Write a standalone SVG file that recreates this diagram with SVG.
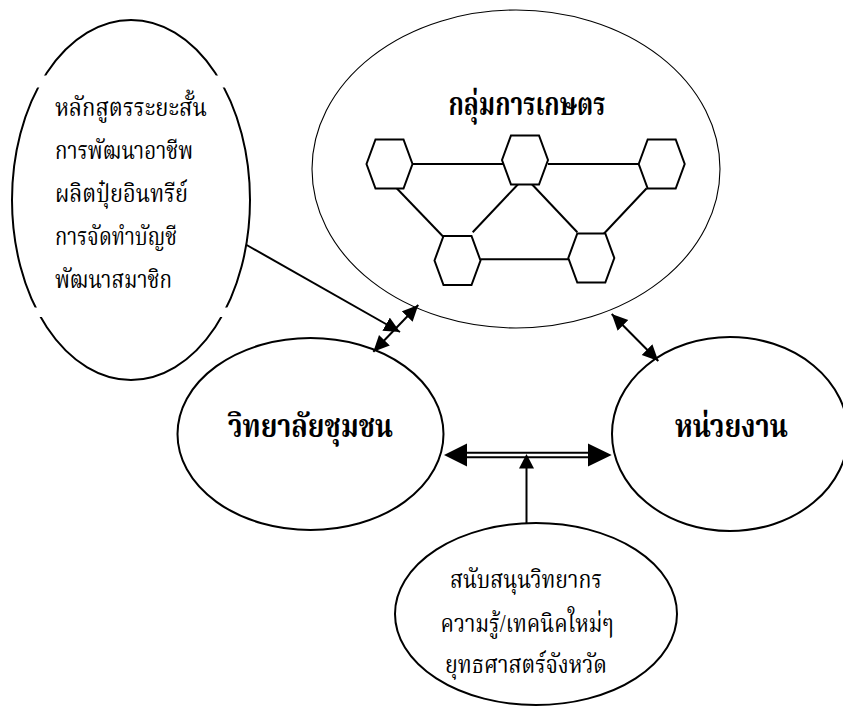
<svg xmlns="http://www.w3.org/2000/svg" xmlns:xlink="http://www.w3.org/1999/xlink" width="843" height="716" viewBox="0 0 843 716">
<style>
.el{fill:#fff;stroke:#000;stroke-width:2}
.thin{fill:#fff;stroke:#000;stroke-width:1.1}
.hex{fill:#fff;stroke:#000;stroke-width:2}
.ln{stroke:#000;stroke-width:2;fill:none}
.t{font-family:"Liberation Serif","Noto Serif Thai","Noto Sans Thai",serif;font-size:25px;fill:#000}
.b{font-weight:bold;font-size:32px}
</style>
<defs>
<polygon id="hx" points="-23,0 -14,-24.5 14,-24.5 23,0 14,24.5 -14,24.5"/>
<marker id="ah" markerUnits="userSpaceOnUse" markerWidth="18" markerHeight="16" refX="16" refY="7.5" orient="auto-start-reverse">
<path d="M0,0 L16,7.5 L0,15 z" fill="#000"/>
</marker>
<clipPath id="gapclip">
<rect x="0" y="0" width="300" height="75.5"/>
<rect x="0" y="87.5" width="300" height="220"/>
<rect x="0" y="317" width="300" height="100"/>
</clipPath>
</defs>

<g id="courses">
<ellipse class="el" cx="131" cy="200" rx="119" ry="180" clip-path="url(#gapclip)"/>
<text class="t" x="55" y="116" textLength="152" lengthAdjust="spacingAndGlyphs">หลักสูตรระยะสั้น</text>
<text class="t" x="55" y="159" textLength="138" lengthAdjust="spacingAndGlyphs">การพัฒนาอาชีพ</text>
<text class="t" x="55" y="202" textLength="133" lengthAdjust="spacingAndGlyphs">ผลิตปุ๋ยอินทรีย์</text>
<text class="t" x="55" y="245" textLength="122" lengthAdjust="spacingAndGlyphs">การจัดทำบัญชี</text>
<text class="t" x="55" y="288" textLength="117" lengthAdjust="spacingAndGlyphs">พัฒนาสมาชิก</text>
</g>

<g id="farm-group">
<ellipse class="thin" cx="516" cy="169" rx="204" ry="159"/>
<text class="t b" x="527" y="115" text-anchor="middle" textLength="157" lengthAdjust="spacingAndGlyphs">กลุ่มการเกษตร</text>
<g id="farm-links">
<line class="ln" x1="412" y1="164" x2="503" y2="164"/>
<line class="ln" x1="548" y1="164" x2="639" y2="164"/>
<line class="ln" x1="396.7" y1="188.3" x2="443.3" y2="236.7"/>
<line class="ln" x1="518.3" y1="184" x2="472.7" y2="232.3"/>
<line class="ln" x1="531.7" y1="184" x2="577.3" y2="232.3"/>
<line class="ln" x1="646.7" y1="188.3" x2="601.7" y2="236"/>
<line class="ln" x1="480.7" y1="259.3" x2="568.3" y2="259.3"/>
</g>
<g id="hex-1"><use xlink:href="#hx" class="hex" x="389.5" y="164"/></g>
<g id="hex-2"><use xlink:href="#hx" class="hex" x="525" y="160"/></g>
<g id="hex-3"><use xlink:href="#hx" class="hex" x="661.7" y="164"/></g>
<g id="hex-4"><use xlink:href="#hx" class="hex" x="457.5" y="260.5"/></g>
<g id="hex-5"><use xlink:href="#hx" class="hex" x="591.3" y="258"/></g>
</g>

<g id="college">
<ellipse class="el" cx="310.5" cy="434" rx="133" ry="96"/>
<text class="t b" x="310.5" y="437" text-anchor="middle" textLength="165" lengthAdjust="spacingAndGlyphs">วิทยาลัยชุมชน</text>
</g>

<g id="agency">
<ellipse class="el" cx="730" cy="434" rx="118" ry="97"/>
<text class="t b" x="731.5" y="437" text-anchor="middle" textLength="113" lengthAdjust="spacingAndGlyphs">หน่วยงาน</text>
</g>

<g id="support">
<ellipse class="el" cx="536" cy="614" rx="141" ry="91"/>
<text class="t" x="526" y="588" text-anchor="middle" textLength="152" lengthAdjust="spacingAndGlyphs">สนับสนุนวิทยากร</text>
<text class="t" x="527" y="632" text-anchor="middle" textLength="173" lengthAdjust="spacingAndGlyphs">ความรู้/เทคนิคใหม่ๆ</text>
<text class="t" x="526" y="673" text-anchor="middle" textLength="162" lengthAdjust="spacingAndGlyphs">ยุทธศาสตร์จังหวัด</text>
</g>

<g id="connectors">
<line class="ln" x1="246.7" y1="245" x2="400" y2="332" marker-end="url(#ah)"/>
<line class="ln" x1="373.3" y1="351.7" x2="418.3" y2="305" marker-start="url(#ah)" marker-end="url(#ah)"/>
<line class="ln" x1="611.7" y1="314" x2="658.3" y2="361" marker-start="url(#ah)" marker-end="url(#ah)"/>
<line class="ln" x1="466" y1="452.8" x2="589" y2="452.8"/>
<line class="ln" x1="466" y1="457.2" x2="589" y2="457.2"/>
<polygon points="444,455 467,443.5 467,466.5" fill="#000"/>
<polygon points="611.7,455 588,443.5 588,466.5" fill="#000"/>
<line class="ln" x1="526.5" y1="523.5" x2="526.5" y2="467"/>
<polygon points="526.5,454 519,468.5 534,468.5" fill="#000"/>
</g>
</svg>
